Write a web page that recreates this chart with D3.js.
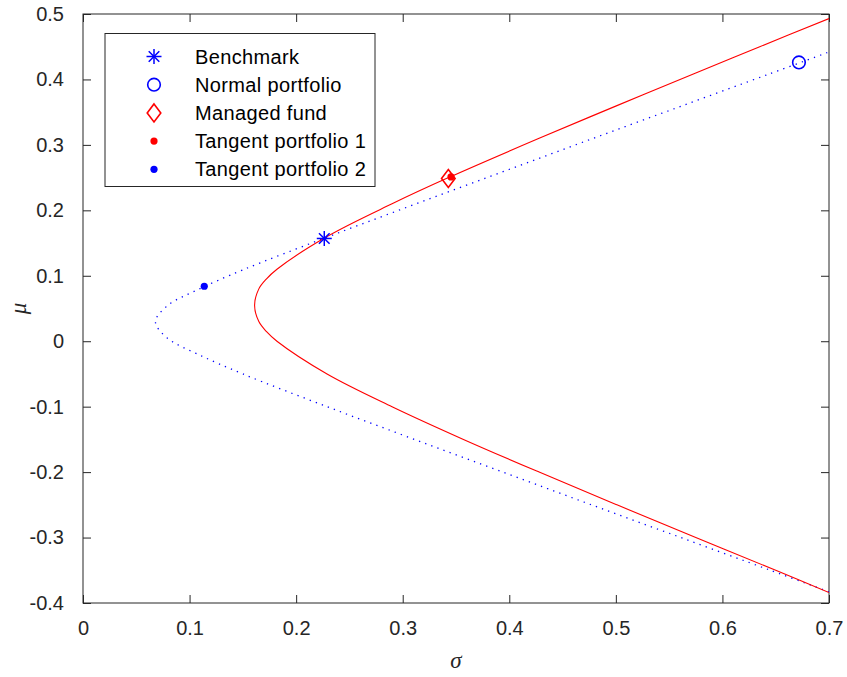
<!DOCTYPE html>
<html>
<head>
<meta charset="utf-8">
<script src="https://cdn.jsdelivr.net/npm/d3@7"></script>
<style>
  body { margin: 0; background: #fff; }
  svg text { font-family: "Liberation Sans", Arial, Helvetica, sans-serif; }
</style>
</head>
<body>
<div id="chart"></div>
<script>
// frontier 1 (solid red)
const redMu    = [-0.384, -0.35, -0.3, -0.25, -0.2, -0.15, -0.1, -0.05, 0, 0.015, 0.03, 0.055, 0.08, 0.095, 0.11, 0.16, 0.21, 0.25, 0.31, 0.36, 0.41, 0.45, 0.493];
const redSigma = [0.700, 0.650, 0.575, 0.501, 0.428, 0.357, 0.290, 0.229, 0.182, 0.172, 0.165, 0.161, 0.165, 0.172, 0.182, 0.229, 0.290, 0.343, 0.428, 0.501, 0.575, 0.635, 0.700];

// frontier 2 (dotted blue)
const blueMu    = [-0.383, -0.35, -0.3, -0.25, -0.2, -0.15, -0.1, -0.05, -0.02, 0.005, 0.0295, 0.054, 0.079, 0.109, 0.159, 0.209, 0.259, 0.309, 0.359, 0.409, 0.442];
const blueSigma = [0.700, 0.645, 0.561, 0.477, 0.394, 0.311, 0.229, 0.150, 0.108, 0.079, 0.068, 0.079, 0.108, 0.150, 0.229, 0.311, 0.394, 0.477, 0.561, 0.645, 0.700];

// single portfolios [sigma, mu]
const benchmark = [0.2264, 0.157];
const normalPortfolio = [0.6718, 0.426];
const managedFund = [0.3428, 0.2486];
const tangent1 = [0.3453, 0.251];
const tangent2 = [0.1138, 0.084];

const legendLabels = ["Benchmark", "Normal portfolio", "Managed fund", "Tangent portfolio 1", "Tangent portfolio 2"];
const xTicks = [0, 0.1, 0.2, 0.3, 0.4, 0.5, 0.6, 0.7];
const yTicks = [-0.4, -0.3, -0.2, -0.1, 0, 0.1, 0.2, 0.3, 0.4, 0.5];

const W = 847, H = 677;
const margin = {left: 83, top: 14, right: 18, bottom: 74};
const iw = W - margin.left - margin.right;
const ih = H - margin.top - margin.bottom;
const axisColor = "#262626";

const svg = d3.select("#chart").append("svg")
    .attr("width", W)
    .attr("height", H);

const x = d3.scaleLinear().domain([0, 0.7]).range([0, iw]);
const y = d3.scaleLinear().domain([-0.4, 0.5]).range([ih, 0]);

const g = svg.append("g").attr("transform", `translate(${margin.left},${margin.top})`);

svg.append("defs").append("clipPath").attr("id", "clip")
  .append("rect").attr("width", iw).attr("height", ih);

// plain hyphen for negatives, like the original
const fmt = d => String(+d.toFixed(1));

// axes, ticks pointing inward, box on all sides
function styleAxis(sel) {
    sel.select(".domain").remove();
    sel.selectAll(".tick line").attr("stroke", axisColor);
    sel.selectAll(".tick text").attr("fill", axisColor).style("font-size", "20px");
}
g.append("g").attr("transform", `translate(0,${ih})`)
    .call(d3.axisBottom(x).tickValues(xTicks).tickFormat(fmt).tickSizeInner(-8).tickSizeOuter(0).tickPadding(18))
    .call(styleAxis);
g.append("g")
    .call(d3.axisTop(x).tickValues(xTicks).tickFormat("").tickSizeInner(-8).tickSizeOuter(0))
    .call(styleAxis);
g.append("g")
    .call(d3.axisLeft(y).tickValues(yTicks).tickFormat(fmt).tickSizeInner(-8).tickSizeOuter(0).tickPadding(19))
    .call(styleAxis);
g.append("g").attr("transform", `translate(${iw},0)`)
    .call(d3.axisRight(y).tickValues(yTicks).tickFormat("").tickSizeInner(-8).tickSizeOuter(0))
    .call(styleAxis);

g.append("rect")
    .attr("width", iw).attr("height", ih)
    .attr("fill", "none").attr("stroke", axisColor).attr("stroke-width", 1);

// curves
const line = d3.line()
    .x(d => x(d[0])).y(d => y(d[1]))
    .curve(d3.curveCatmullRom.alpha(0.5));

const plot = g.append("g").attr("clip-path", "url(#clip)");
plot.append("path")
    .datum(blueSigma.map((s, i) => [s, blueMu[i]]))
    .attr("d", line)
    .attr("fill", "none")
    .attr("stroke", "#0000ff")
    .attr("stroke-width", 1.3)
    .attr("stroke-dasharray", "1.3,5.2");
plot.append("path")
    .datum(redSigma.map((s, i) => [s, redMu[i]]))
    .attr("d", line)
    .attr("fill", "none")
    .attr("stroke", "#ff0000")
    .attr("stroke-width", 1.1);

// markers
function asterisk(sel, cx, cy, r, color) {
    const a = r * Math.SQRT1_2;
    const segs = [[-r, 0, r, 0], [0, -r, 0, r], [-a, -a, a, a], [-a, a, a, -a]];
    sel.selectAll(null).data(segs).enter().append("line")
        .attr("x1", d => cx + d[0]).attr("y1", d => cy + d[1])
        .attr("x2", d => cx + d[2]).attr("y2", d => cy + d[3])
        .attr("stroke", color).attr("stroke-width", 1.5);
}
function circleMark(sel, cx, cy, color) {
    sel.append("circle").attr("cx", cx).attr("cy", cy).attr("r", 6.3)
        .attr("fill", "none").attr("stroke", color).attr("stroke-width", 1.6);
}
function diamond(sel, cx, cy, color) {
    sel.append("path")
        .attr("d", `M${cx},${cy - 9}L${cx + 6.8},${cy}L${cx},${cy + 9}L${cx - 6.8},${cy}Z`)
        .attr("fill", "none").attr("stroke", color).attr("stroke-width", 1.6);
}
function dot(sel, cx, cy, color) {
    sel.append("circle").attr("cx", cx).attr("cy", cy).attr("r", 3.6).attr("fill", color);
}

const marks = g.append("g");
asterisk(marks, x(benchmark[0]), y(benchmark[1]), 7.5, "#0000ff");
circleMark(marks, x(normalPortfolio[0]), y(normalPortfolio[1]), "#0000ff");
diamond(marks, x(managedFund[0]), y(managedFund[1]), "#ff0000");
dot(marks, x(tangent1[0]), y(tangent1[1]), "#ff0000");
dot(marks, x(tangent2[0]), y(tangent2[1]), "#0000ff");

// legend
const lg = svg.append("g").attr("transform", "translate(105,33.5)");
lg.append("rect").attr("width", 270).attr("height", 153)
    .attr("fill", "#fff").attr("stroke", axisColor).attr("stroke-width", 1);
const rowY = i => 23 + i * 28.2;
asterisk(lg, 49, rowY(0), 7.5, "#0000ff");
circleMark(lg, 49, rowY(1), "#0000ff");
diamond(lg, 49, rowY(2), "#ff0000");
dot(lg, 49, rowY(3), "#ff0000");
dot(lg, 49, rowY(4), "#0000ff");
lg.selectAll("text.lbl").data(legendLabels).enter().append("text")
    .attr("class", "lbl")
    .attr("x", 90).attr("y", (d, i) => rowY(i) + 7)
    .attr("fill", "#000")
    .style("font-size", "20px")
    .style("letter-spacing", "0.35px")
    .text(d => d);

// axis labels
svg.append("text")
    .attr("x", margin.left + iw / 2).attr("y", 668)
    .attr("text-anchor", "middle")
    .style("font-family", "'Liberation Serif', 'Times New Roman', serif")
    .style("font-style", "italic").style("font-size", "23px")
    .attr("fill", axisColor)
    .text("σ");
svg.append("text")
    .attr("transform", `translate(26,${margin.top + ih / 2}) rotate(-90)`)
    .attr("text-anchor", "middle")
    .style("font-family", "'Liberation Serif', 'Times New Roman', serif")
    .style("font-style", "italic").style("font-size", "23px")
    .attr("fill", axisColor)
    .text("μ");
</script>
</body>
</html>
